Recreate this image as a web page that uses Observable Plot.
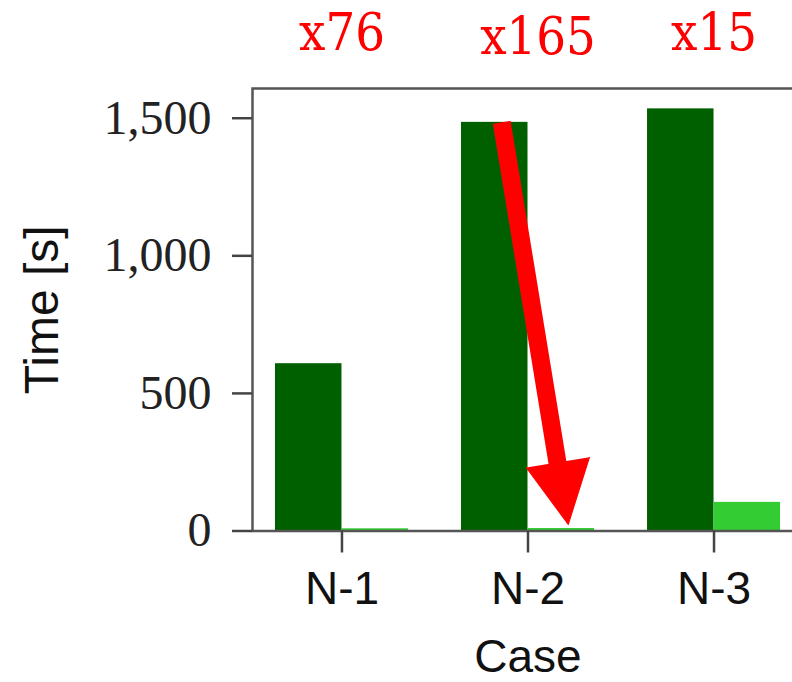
<!DOCTYPE html>
<html><head><meta charset="utf-8">
<script src="https://cdn.jsdelivr.net/npm/d3@7"></script>
<script src="https://cdn.jsdelivr.net/npm/@observablehq/plot@0.6"></script>
<style>
html,body{margin:0;padding:0;background:#fff;overflow:hidden;width:792px;height:682px;}
#chart svg{max-width:none;display:block;}
</style></head><body><div id="chart"></div>
<script>
const cases = ["N-1", "N-2", "N-3"];
const baselineTime = [608, 1485, 1534];
const acceleratedTime = [8, 9, 104];
const speedups = ["x76", "x165", "x15"];
const yTicks = [0, 500, 1000, 1500];

const rows = cases.map((c, k) => ({i: k + 1, name: c, base: baselineTime[k], fast: acceleratedTime[k], speedup: speedups[k]}));
const barW = 0.3575;
const dark = "#006000", light = "#33cc33", red = "#ff0000";
const sans = "Liberation Sans, Arial, sans-serif";
const serif = "Liberation Serif, Times New Roman, serif";
const slab = "DejaVu Serif Condensed, DejaVu Serif, serif";
const arrowRow = rows.filter(d => d.name === "N-2");
const otherRows = rows.filter(d => d.name !== "N-2");

const chart = Plot.plot({
  width: 803, height: 682,
  marginLeft: 252, marginRight: 0, marginTop: 88, marginBottom: 151.5,
  x: {domain: [0.519, 3.481]},
  y: {domain: [0, 1608]},
  style: {background: "white"},
  marks: [
    Plot.rectY(rows, {x1: d => d.i - barW, x2: d => d.i, y1: 0, y2: "base", fill: dark}),
    Plot.rectY(rows, {x1: d => d.i, x2: d => d.i + barW, y1: 0, y2: "fast", fill: light}),
    Plot.frame({stroke: "#555", strokeWidth: 2.5}),
    Plot.axisY({ticks: yTicks, tickFormat: d3.format(","), tickSize: 20, tickPadding: 21, fontSize: 48, fontFamily: serif, stroke: "#444", strokeWidth: 2.5, fill: "#222", label: null}),
    Plot.axisX({ticks: rows.map(d => d.i), tickFormat: i => cases[i - 1], tickSize: 22, tickPadding: 18, fontSize: 46, fontFamily: sans, stroke: "#444", strokeWidth: 2.5, fill: "#111", label: null}),
    Plot.text(["Time [s]"], {text: d => d, frameAnchor: "left", textAnchor: "middle", rotate: -90, dx: -210, fontSize: 48, fontFamily: sans, fill: "#111"}),
    Plot.text(["Case"], {text: d => d, frameAnchor: "bottom", lineAnchor: "top", dy: 108.5, fontSize: 46, fontFamily: sans, fill: "#111"}),
    Plot.text(otherRows, {x: "i", text: "speedup", frameAnchor: "top", lineAnchor: "bottom", dy: -39, fontSize: 52, fontFamily: slab, fill: red}),
    Plot.text(arrowRow, {x: "i", text: "speedup", frameAnchor: "top", lineAnchor: "bottom", dx: 10, dy: -35, fontSize: 52, fontFamily: slab, fill: red}),
    Plot.arrow(arrowRow, {x1: d => d.i - barW / 2, y1: "base", x2: d => d.i + barW / 2, y2: "fast", stroke: red, strokeWidth: 18, headLength: 0, insetEnd: 55, strokeLinecap: "butt", dx: 7}),
    Plot.vector(arrowRow, {x: d => d.i + barW / 2, y: "fast", anchor: "end", shape: "spike", length: 63, r: 32, rotate: 170.6, fill: red, stroke: red, strokeWidth: 1, dx: 7, dy: -4})
  ]
});
document.getElementById("chart").appendChild(chart);
</script></body></html>
